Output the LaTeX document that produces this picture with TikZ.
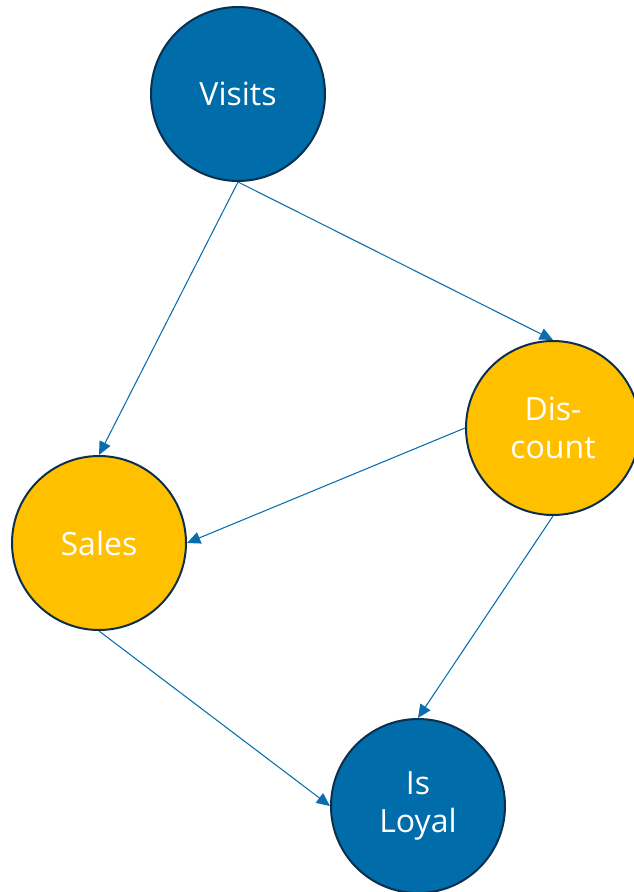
\documentclass[tikz,border=0pt]{standalone}
\usepackage{fontspec}
\setmainfont{Open Sans}
\usetikzlibrary{arrows.meta}
\definecolor{nodeblue}{HTML}{006CA9}
\definecolor{nodegold}{HTML}{FFC000}
\definecolor{rimnavy}{HTML}{0C2F4E}
\definecolor{edgeblue}{HTML}{0A6EAE}
\tikzset{
  var/.style={circle, draw=rimnavy, line width=1.5pt, minimum size=130.5pt,
    inner sep=0pt, text=white, align=center,
    font=\fontsize{24}{28}\selectfont},
  observed/.style={var, fill=nodeblue},
  treated/.style={var, fill=nodegold},
  link/.style={draw=edgeblue, line width=0.8pt,
    -{Triangle[length=10pt, width=9pt]}}
}
\begin{document}
\begin{tikzpicture}[x=0.75pt, y=-0.75pt]
  \useasboundingbox (0,0) rectangle (634,892);
  \node[observed] (visits) at (238,94) {Visits};
  \node[treated] (discount) at (553,428) {Dis-\\count};
  \node[treated] (sales) at (99,543) {Sales};
  \node[observed] (loyal) at (418,806) {Is\\Loyal};
  \draw[link] (visits.south) -- (sales.north);
  \draw[link] (visits.south) -- (discount.north);
  \draw[link] (discount.west) -- (sales.east);
  \draw[link] (discount.south) -- (loyal.north);
  \draw[link] (sales.south) -- (loyal.west);
\end{tikzpicture}
\end{document}
